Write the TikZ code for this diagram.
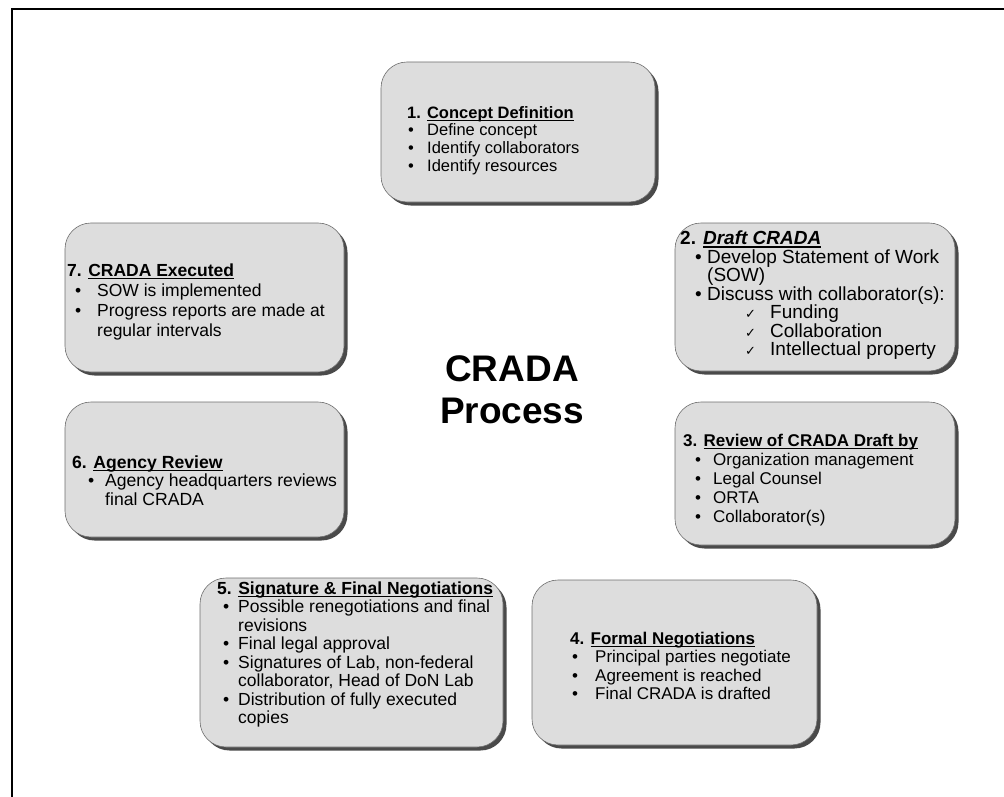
\documentclass[tikz,border=0pt]{standalone}
\usepackage{fontspec}
\setmainfont{Liberation Sans}
\newfontfamily\symfont{DejaVu Sans}
\usetikzlibrary{shadows}
\definecolor{boxfill}{HTML}{DDDDDD}
\definecolor{boxline}{HTML}{6E6E6E}
\definecolor{shade}{HTML}{4A4A4A}
\newlength\bulA
\newlength\bulB
\newsavebox\ulbox
\newcommand{\setbul}[2]{\global\bulA=#1\relax\global\bulB=#2\relax}
\newcommand{\itm}[1]{\hspace*{\bulA}\makebox[\bulB][l]{\textbullet}#1}
\newcommand{\cont}[1]{\hspace*{\bulA}\hspace*{\bulB}#1}
\newcommand{\chk}[1]{\hspace*{65pt}\makebox[25pt][l]{\symfont\fontsize{13}{13}\selectfont ✓}#1}
\newcommand{\uln}[1]{\sbox\ulbox{#1}\rlap{\rule[-2.6pt]{\wd\ulbox}{1.1pt}}\usebox\ulbox}
\newcommand{\head}[2]{\textbf{#1 \uln{#2}}}
\tikzset{stepbox/.style={draw=boxline,fill=boxfill,line width=.6pt,rounded corners=26pt,drop shadow={shadow xshift=3.5pt,shadow yshift=-3.5pt,fill=shade,opacity=1}}, steptext/.style 2 args={anchor=north west,inner sep=0pt,align=left,font=\fontsize{#1}{#2}\selectfont}, bigtitle/.style={font=\bfseries\fontsize{37}{42}\selectfont,align=center}, frameline/.style={draw=black,line width=2.6pt}}

\begin{document}
\begin{tikzpicture}[x=1pt,y=-1pt]
\useasboundingbox (0,0) rectangle (1004,797);
\clip (0,0) rectangle (1004,797);
\draw[frameline] (12,9) rectangle (1040,840);
\node[stepbox,minimum width=274pt,minimum height=140pt] (s1) at (518,132) {};
\node[stepbox,minimum width=280pt,minimum height=148pt] (s2) at (815,297) {};
\node[stepbox,minimum width=280pt,minimum height=143pt] (s3) at (815,473.5) {};
\node[stepbox,minimum width=285pt,minimum height=165pt] (s4) at (674.5,662.5) {};
\node[stepbox,minimum width=303pt,minimum height=169pt] (s5) at (351.5,662.5) {};
\node[stepbox,minimum width=279pt,minimum height=135pt] (s6) at (204.5,469.5) {};
\node[stepbox,minimum width=279pt,minimum height=149pt] (s7) at (204.5,297.5) {};
\node[steptext={16.5}{17.7}] (t1) at (407,105.9) {\setbul{1pt}{19pt}\head{1.}{Concept Definition}\\ \itm{Define concept}\\ \itm{Identify collaborators}\\ \itm{Identify resources}};
\node[steptext={19}{18.5}] (t2) at (680,231) {\setbul{15pt}{12pt}\textbf{2. \uln{\itshape Draft CRADA}}\\ \itm{Develop Statement of Work}\\ \cont{(SOW)}\\ \itm{Discuss with collaborator(s):}\\ \chk{Funding}\\ \chk{Collaboration}\\ \chk{Intellectual property}};
\node[steptext={17}{19}] (t3) at (683,433.7) {\setbul{12pt}{18pt}\head{3.}{Review of CRADA Draft by}\\ \itm{Organization management}\\ \itm{Legal Counsel}\\ \itm{ORTA}\\ \itm{Collaborator(s)}};
\node[steptext={17}{18.5}] (t4) at (570,631.7) {\setbul{2pt}{23pt}\head{4.}{Formal Negotiations}\\ \itm{Principal parties negotiate}\\ \itm{Agreement is reached}\\ \itm{Final CRADA is drafted}};
\node[steptext={17.5}{18.5}] (t5) at (217,581.5) {\setbul{6pt}{15pt}\head{5.}{Signature \& Final Negotiations}\\ \itm{Possible renegotiations and final}\\ \cont{revisions}\\ \itm{Final legal approval}\\ \itm{Signatures of Lab, non-federal}\\ \cont{collaborator, Head of DoN Lab}\\ \itm{Distribution of fully executed}\\ \cont{copies}};
\node[steptext={17.6}{18.5}] (t6) at (72,455.5) {\setbul{16pt}{17pt}\head{6.}{Agency Review}\\ \itm{Agency headquarters reviews}\\ \cont{final CRADA}};
\node[steptext={17.5}{20}] (t7) at (67,263.5) {\setbul{8pt}{22pt}\head{7.}{CRADA Executed}\\ \itm{SOW is implemented}\\ \itm{Progress reports are made at}\\ \cont{regular intervals}};
\node[bigtitle] (core) at (512,390) {CRADA\\Process};
\end{tikzpicture}
\end{document}
